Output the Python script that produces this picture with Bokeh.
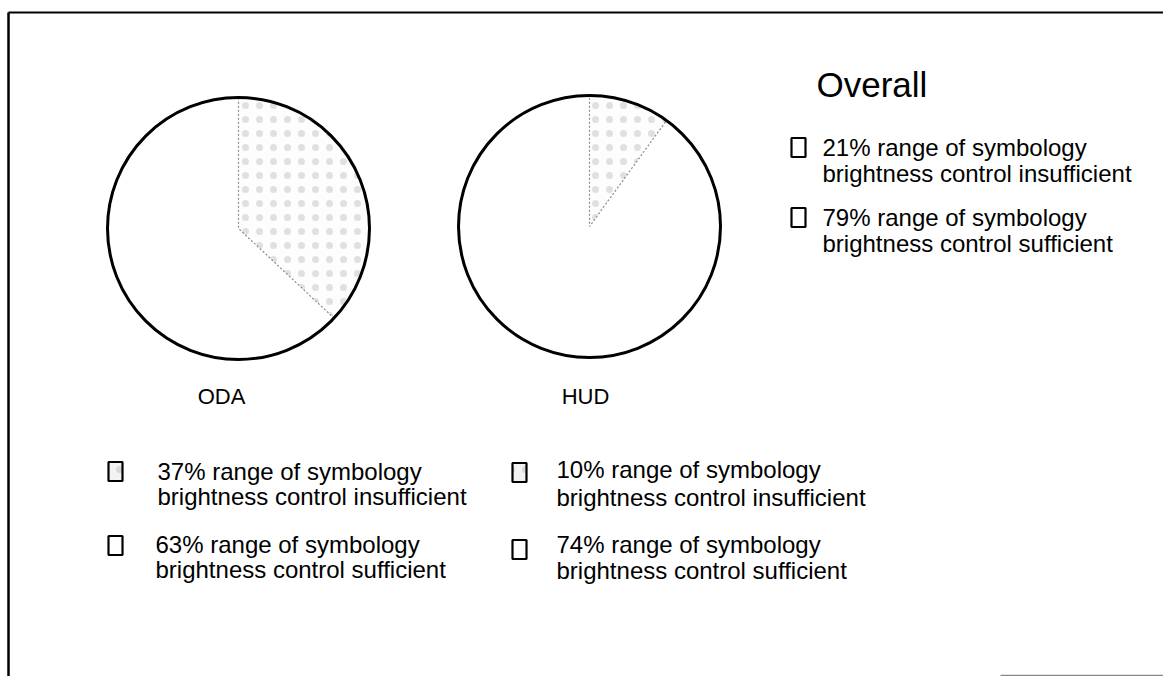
import math
from bokeh.plotting import figure
from bokeh.models import Range1d
from bokeh.core.properties import value
from bokeh.embed import file_html
from bokeh.resources import INLINE

# ---------------- data ----------------
groups = ["ODA", "HUD"]
insufficient_pct = [37, 10]
sufficient_pct = [63, 74]
overall_title = "Overall"
overall_insufficient_pct = 21
overall_sufficient_pct = 79
line1 = "range of symbology"
ins_line2 = "brightness control insufficient"
suf_line2 = "brightness control sufficient"

# ---------------- layout helpers (page pixel -> data) ----------------
W, H = 1163, 676
def dx(X):
    return X
def dy(Y):
    return H - Y

FONT = value("Liberation Sans")

p = figure(width=W, height=H, output_backend="svg", toolbar_location=None,
           x_range=Range1d(0, W), y_range=Range1d(0, H), min_border=0)
p.axis.visible = False
p.grid.visible = False
p.outline_line_color = None
p.background_fill_color = "white"
p.border_fill_color = "white"

# frame (scanned page border)
p.line([dx(8), dx(8)], [dy(680), dy(12)], line_color="black", line_width=2.5)
p.line([dx(8), dx(1170)], [dy(12), dy(12)], line_color="black", line_width=2)
p.line([dx(1000), dx(1170)], [dy(675), dy(675)], line_color="#888888", line_width=1.5)

# pies
centers_x = [dx(238), dx(589)]
centers_y = [dy(228), dy(226)]
radius = 131
stipple = dict(hatch_pattern="dot", hatch_color="#9a9a9a", hatch_alpha=0.3,
               hatch_scale=14, hatch_weight=0.8)

for cx, cy, ins, suf in zip(centers_x, centers_y, insufficient_pct, sufficient_pct):
    a0 = math.pi / 2
    a1 = a0 - 2 * math.pi * ins / 100.0
    a2 = a1 - 2 * math.pi * suf / 100.0
    p.wedge(x=cx, y=cy, radius=radius, start_angle=a1, end_angle=a2,
            direction="clock", fill_color="white", line_color=None)
    p.wedge(x=cx, y=cy, radius=radius, start_angle=a0, end_angle=a1,
            direction="clock", fill_color="#fdfdfd", line_color="#8a8a8a",
            line_dash="2 2", line_width=1.2, **stipple)
    p.circle(x=cx, y=cy, radius=radius, fill_color=None, line_color="black",
             line_width=3)

# pie labels
p.text(x=[dx(221), dx(585)], y=[dy(396), dy(396)], text=groups,
       text_font=FONT, text_font_size="22px", text_align="center",
       text_baseline="middle", text_color="black")

# overall legend
p.text(x=[dx(816)], y=[dy(84)], text=[overall_title], text_font=FONT,
       text_font_size="35px", text_align="left", text_baseline="middle",
       text_color="black")

def legend_entry(bx, by, tx, ty1, ty2, pct, second, stippled, size="24px"):
    if stippled:
        p.rect(x=dx(bx), y=dy(by), width=14, height=19, fill_color="#f2f2f2",
               line_color="black", line_width=2.2, **stipple)
    else:
        p.rect(x=dx(bx), y=dy(by), width=14, height=19, fill_color="white",
               line_color="black", line_width=2.2)
    p.text(x=[dx(tx), dx(tx)], y=[dy(ty1), dy(ty2)],
           text=[f"{pct}% {line1}", second], text_font=FONT,
           text_font_size=size, text_align="left", text_baseline="middle",
           text_color="black")

legend_entry(798, 147, 822, 147, 173, overall_insufficient_pct, ins_line2, False, "24px")
legend_entry(798, 217, 822, 217, 243, overall_sufficient_pct, suf_line2, False, "24px")

# ODA legend
legend_entry(115, 471, 157, 471, 496, insufficient_pct[0], ins_line2, True)
legend_entry(115, 545, 155, 544, 569, sufficient_pct[0], suf_line2, False)
# HUD legend
legend_entry(519, 472, 556, 469, 497, insufficient_pct[1], ins_line2, True)
legend_entry(519, 549, 556, 544, 570, sufficient_pct[1], suf_line2, False)

open("out.html", "w").write(file_html(p, INLINE))
